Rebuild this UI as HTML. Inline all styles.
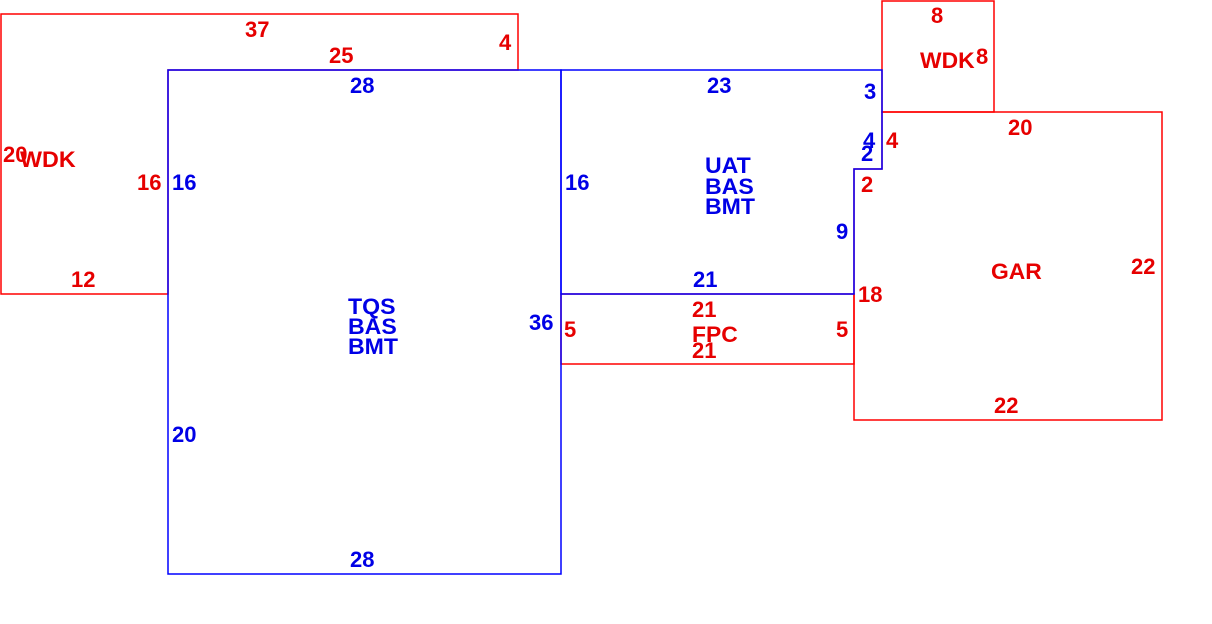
<!DOCTYPE html>
<html>
<head>
<meta charset="utf-8">
<style>
  html,body{margin:0;padding:0;background:#fff;}
  svg{display:block;}
  text{font-family:"Liberation Sans",Arial,sans-serif;font-weight:bold;font-size:22px;}
  .r{fill:#e60000;}
  .b{fill:#0000e6;}
</style>
</head>
<body>
<svg width="1212" height="624" viewBox="0 0 1212 624" xmlns="http://www.w3.org/2000/svg">
  <rect x="0" y="0" width="1212" height="624" fill="#fff"/>
  <!-- red shapes -->
  <g fill="none" stroke="#ff0000" stroke-width="1.5">
    <polygon points="1,14 518,14 518,70 168,70 168,294 1,294"/>
    <rect x="882" y="1" width="112" height="111"/>
    <polygon points="882,112 1162,112 1162,420 854,420 854,169 882,169"/>
    <polygon points="561,294 854,294 854,364 561,364"/>
  </g>
  <!-- blue shapes -->
  <g fill="none" stroke="#0000ff" stroke-width="1.5">
    <rect x="168" y="70" width="393" height="504"/>
    <polygon points="561,70 882,70 882,169 854,169 854,294 561,294"/>
  </g>

  <!-- red labels left WDK -->
  <text class="r" x="245" y="37">37</text>
  <text class="r" x="329" y="63">25</text>
  <text class="r" x="499" y="50">4</text>
  <text class="r" x="3" y="162">20</text>
  <text class="r" transform="translate(20,167) scale(1.06,1)">WDK</text>
  <text class="r" x="137" y="190">16</text>
  <text class="r" x="71" y="287">12</text>

  <!-- blue TQS -->
  <text class="b" x="350" y="93">28</text>
  <text class="b" x="172" y="190">16</text>
  <text class="b" transform="translate(348,314) scale(1.05,1)">TQS</text>
  <text class="b" transform="translate(348,334) scale(1.05,1)">BAS</text>
  <text class="b" transform="translate(348,354) scale(1.05,1)">BMT</text>
  <text class="b" x="172" y="442">20</text>
  <text class="b" x="350" y="567">28</text>
  <text class="b" x="529" y="330">36</text>

  <!-- blue UAT -->
  <text class="b" x="565" y="190">16</text>
  <text class="b" x="707" y="93">23</text>
  <text class="b" x="864" y="99">3</text>
  <text class="b" x="863" y="148">4</text>
  <text class="b" x="861" y="161">2</text>
  <text class="b" transform="translate(705,173) scale(1.05,1)">UAT</text>
  <text class="b" transform="translate(705,194) scale(1.05,1)">BAS</text>
  <text class="b" transform="translate(705,214) scale(1.05,1)">BMT</text>
  <text class="b" x="836" y="239">9</text>
  <text class="b" x="693" y="287">21</text>

  <!-- red FPC -->
  <text class="r" x="692" y="317">21</text>
  <text class="r" x="564" y="337">5</text>
  <text class="r" transform="translate(692,342) scale(1.04,1)">FPC</text>
  <text class="r" x="692" y="358">21</text>
  <text class="r" x="836" y="337">5</text>

  <!-- red small WDK -->
  <text class="r" x="931" y="23">8</text>
  <text class="r" transform="translate(920,68) scale(1.04,1)">WDK</text>
  <text class="r" x="976" y="64">8</text>

  <!-- red GAR -->
  <text class="r" x="1008" y="135">20</text>
  <text class="r" x="886" y="148">4</text>
  <text class="r" x="861" y="192">2</text>
  <text class="r" transform="translate(991,279) scale(1.04,1)">GAR</text>
  <text class="r" x="1131" y="274">22</text>
  <text class="r" x="858" y="302">18</text>
  <text class="r" x="994" y="413">22</text>
</svg>
</body>
</html>
